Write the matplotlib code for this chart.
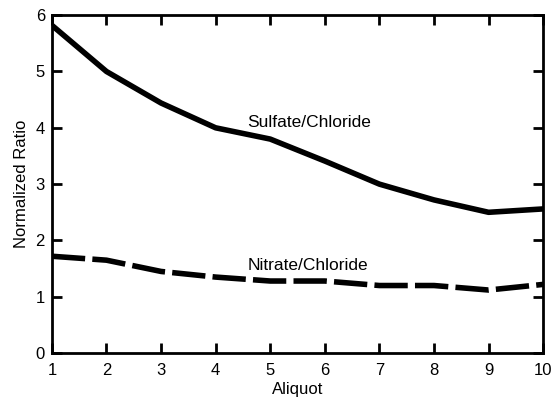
import matplotlib.pyplot as plt

plt.rcParams['font.family'] = ['Liberation Sans', 'DejaVu Sans']

aliquot = [1, 2, 3, 4, 5, 6, 7, 8, 9, 10]
sulfate_chloride = [5.82, 5.0, 4.44, 4.0, 3.8, 3.41, 3.0, 2.72, 2.5, 2.56]
nitrate_chloride = [1.72, 1.65, 1.45, 1.35, 1.28, 1.28, 1.2, 1.2, 1.12, 1.22]

fig, ax = plt.subplots(figsize=(5.52, 3.99), dpi=100)
fig.subplots_adjust(left=0.094, right=0.984, top=0.962, bottom=0.115)

ax.plot(aliquot, sulfate_chloride, color='black', linewidth=4.0, solid_capstyle='butt')
ax.plot(aliquot, nitrate_chloride, color='black', linewidth=4.0,
        dashes=(6, 1.3), dash_capstyle='butt')

ax.text(5.72, 4.1, 'Sulfate/Chloride', fontsize=12.5, ha='center', va='center')
ax.text(5.69, 1.56, 'Nitrate/Chloride', fontsize=12.5, ha='center', va='center')

ax.set_xlim(1, 10)
ax.set_ylim(0, 6)
ax.set_xticks(aliquot)
ax.set_yticks(range(0, 7))
ax.tick_params(direction='in', length=7, width=2, top=True, right=True, labelsize=12)
ax.tick_params(axis='x', pad=7)
ax.tick_params(axis='y', pad=5)
for s in ax.spines.values():
    s.set_linewidth(2)

ax.set_xlabel('Aliquot', fontsize=12, labelpad=3)
ax.set_ylabel('Normalized Ratio', fontsize=12, labelpad=5)

plt.savefig('out.png', dpi=100)
